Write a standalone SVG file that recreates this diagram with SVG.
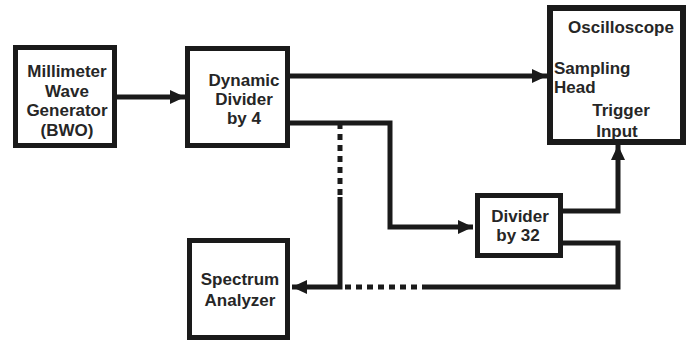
<svg xmlns="http://www.w3.org/2000/svg" width="694" height="344" viewBox="0 0 694 344">
  <style>
    .box { fill: #fff; stroke: #1a1a1a; stroke-width: 5; }
    .wire { fill: none; stroke: #1a1a1a; stroke-width: 5; stroke-linejoin: miter; stroke-linecap: butt; }
    .dot { fill: none; stroke: #1a1a1a; stroke-width: 5; stroke-dasharray: 6 5; }
    .lbl { font-family: "Liberation Sans", Arial, sans-serif; font-weight: bold; font-size: 17px; fill: #262626; }
    .mid { text-anchor: middle; }
  </style>
  <defs>
    <marker id="arrow" markerUnits="userSpaceOnUse" markerWidth="16" markerHeight="14" refX="15" refY="7" orient="auto">
      <path d="M0,0 L15,7 L0,14 Z" fill="#1a1a1a"/>
    </marker>
  </defs>
  <rect width="694" height="344" fill="#fff"/>

  <g id="connectors">
    <!-- generator to divider -->
    <line class="wire" x1="117" y1="97" x2="185" y2="97" marker-end="url(#arrow)"/>
    <!-- divider to sampling head -->
    <line class="wire" x1="290" y1="76" x2="547" y2="76" marker-end="url(#arrow)"/>
    <!-- divider to divider by 32 -->
    <polyline class="wire" points="290,123 390,123 390,227 473,227" marker-end="url(#arrow)"/>
    <!-- divider by 32 to trigger input -->
    <polyline class="wire" points="563,211 618,211 618,145" marker-end="url(#arrow)"/>
    <!-- divider by 32 back to analyzer -->
    <polyline class="wire" points="563,243 618,243 618,287 428,287"/>
    <line class="dot" x1="428" y1="287" x2="342" y2="287"/>
    <!-- optional tap down to analyzer -->
    <line class="dot" x1="340" y1="123" x2="340" y2="197"/>
    <polyline class="wire" points="340,197 340,287 292,287" marker-end="url(#arrow)"/>
  </g>

  <g id="generator">
    <rect class="box" x="15.5" y="47.5" width="99" height="98"/>
    <text class="lbl mid" x="67" y="77">Millimeter</text>
    <text class="lbl mid" x="67" y="97">Wave</text>
    <text class="lbl mid" x="67" y="116">Generator</text>
    <text class="lbl mid" x="67" y="136">(BWO)</text>
  </g>

  <g id="dynamic-divider">
    <rect class="box" x="187.5" y="48.5" width="100" height="97"/>
    <text class="lbl mid" x="244" y="86">Dynamic</text>
    <text class="lbl mid" x="244" y="105">Divider</text>
    <text class="lbl mid" x="244" y="124">by 4</text>
  </g>

  <g id="oscilloscope">
    <rect class="box" x="550" y="8" width="133" height="134" style="stroke-width:6"/>
    <text class="lbl mid" x="621" y="33">Oscilloscope</text>
    <text class="lbl" x="554" y="74">Sampling</text>
    <text class="lbl" x="554" y="93">Head</text>
    <text class="lbl mid" x="621" y="116">Trigger</text>
    <text class="lbl mid" x="617" y="137">Input</text>
  </g>

  <g id="divider-32">
    <rect class="box" x="477.5" y="195.5" width="83" height="60"/>
    <text class="lbl mid" x="520" y="222">Divider</text>
    <text class="lbl mid" x="518" y="241">by 32</text>
  </g>

  <g id="spectrum-analyzer">
    <rect class="box" x="189.5" y="240.5" width="98" height="97"/>
    <text class="lbl mid" x="240" y="285">Spectrum</text>
    <text class="lbl mid" x="240" y="306">Analyzer</text>
  </g>
</svg>
